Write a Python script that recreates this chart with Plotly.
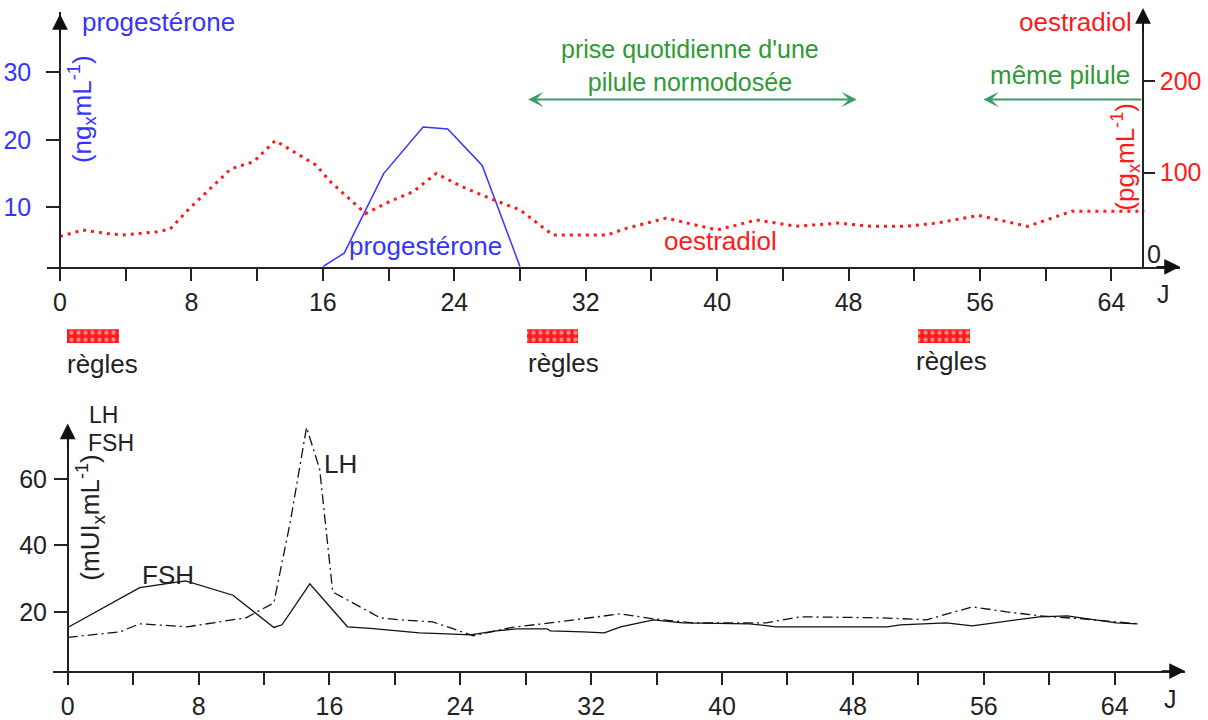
import plotly.graph_objects as go

W, H = 1208, 720

# ---------------- data ----------------
# top chart : progesterone (ng/mL, left axis) and oestradiol (pg/mL, right axis)
days_prog = [16, 17.3, 19.7, 22.1, 23.6, 25.7, 28.0]
progesterone = [1.2, 3.2, 15, 21.9, 21.6, 16.2, 1.2]

days_oes = [0, 1.4, 2.9, 3.8, 5.9, 6.7, 7.9, 10.4, 11.8, 13.1, 15.6, 16.4, 18.6,
            20.1, 21.5, 22.9, 24.4, 26.4, 28.0, 30.0, 33.3, 34.5, 36.9, 40.0,
            42.4, 44.8, 47.4, 49.4, 51.4, 53.4, 55.9, 58.9, 61.6, 66.0]
oestradiol = [30, 37, 33, 31.5, 35, 38, 61, 104, 112, 135, 108, 91, 55,
              68.5, 79, 99, 85, 70, 59, 31.5, 31.5, 39, 50, 37,
              48, 41, 44.6, 41, 41, 44.6, 53, 41, 57.6, 57.6]

# bottom chart : FSH (solid) and LH (dash-dot), mUI/mL
days_fsh = [0, 4.4, 7.2, 10.1, 12.6, 13.1, 14.8, 17.1, 18.5, 20.3, 21.5, 23.2,
            24.6, 26.2, 27.5, 29.3, 29.5, 31.5, 32.8, 33.8, 35.8, 37.6, 41.7,
            43.3, 50.1, 50.9, 53.7, 55.3, 57.0, 59.4, 61.1, 64.1, 65.4]
fsh = [15.3, 27.3, 29.3, 25, 15.3, 16.1, 28.4, 15.5, 15, 14.3, 13.7, 13.4,
       13.1, 14.3, 14.9, 14.9, 14.3, 14, 13.7, 15.5, 17.6, 16.7, 16.4,
       15.5, 15.5, 16.1, 16.7, 15.8, 17, 18.5, 18.8, 16.7, 16.4]

days_lh = [0, 3.2, 4.4, 7.3, 8.9, 10.9, 12.6, 13.6, 14.6, 15.4, 16.2, 19.1,
           20.3, 22.3, 24.8, 27.0, 29.5, 33.8, 35.8, 38.2, 42.7, 44.8, 49.8,
           52.5, 55.3, 57.4, 59.4, 62.0, 65.4]
lh = [12.3, 14, 16.4, 15.5, 16.7, 18.2, 22.7, 46.9, 75.5, 63, 26, 18.2,
      17.6, 17, 12.8, 15.2, 16.7, 19.4, 17.9, 16.7, 16.7, 18.5, 18.2,
      17.6, 21.5, 20, 18.8, 17.9, 16.4]

# menstruation periods ("règles")
regles_start = [0.4, 28.4, 52.2]
regles_end = [3.6, 31.5, 55.4]

# ticks
x_tickvals = list(range(0, 65, 4))
x_ticktext = [str(v) if v % 8 == 0 else "" for v in x_tickvals]
prog_ticks = [10, 20, 30]
oes_ticks = [100, 200]
gon_ticks = [20, 40, 60]

# ---------------- styling helpers ----------------
FONT = "Liberation Sans, Arial, sans-serif"
FS = 25      # tick labels
FT = 26      # annotation texts
BLUE = "#3535ff"
RED = "#ff1a1a"
GREEN_T = "#2f9a36"
GREEN_A = "#3a9a68"
AXC = "#222222"
TXT = "#222222"


def fx(px):
    return px / W


def fy(py):
    return 1 - py / H


fig = go.Figure()

# top chart traces
fig.add_trace(go.Scatter(x=days_oes, y=oestradiol, xaxis="x", yaxis="y2",
                         mode="lines", line=dict(color=RED, width=3, dash="3px,5px"),
                         showlegend=False, hoverinfo="skip"))
fig.add_trace(go.Scatter(x=days_prog, y=progesterone, xaxis="x", yaxis="y",
                         mode="lines", line=dict(color=BLUE, width=1.5),
                         showlegend=False, hoverinfo="skip"))

# règles boxes (patterned bars on a hidden axis)
fig.add_trace(go.Bar(x=[(a + b) / 2 for a, b in zip(regles_start, regles_end)],
                     width=[b - a for a, b in zip(regles_start, regles_end)],
                     y=[1, 1, 1], base=0, xaxis="x", yaxis="y4",
                     marker=dict(color=RED, line=dict(width=0),
                                 pattern=dict(shape=".", fgcolor="white", bgcolor=RED,
                                              size=7, solidity=0.3, fillmode="overlay")),
                     showlegend=False, hoverinfo="skip"))

# bottom chart traces
fig.add_trace(go.Scatter(x=days_lh, y=lh, xaxis="x2", yaxis="y3",
                         mode="lines", line=dict(color="#111111", width=1.3,
                                                 dash="10px,4px,2px,4px"),
                         showlegend=False, hoverinfo="skip"))
fig.add_trace(go.Scatter(x=days_fsh, y=fsh, xaxis="x2", yaxis="y3",
                         mode="lines", line=dict(color="#111111", width=1.3),
                         showlegend=False, hoverinfo="skip"))

axis_common = dict(showgrid=False, zeroline=False, showline=True, linecolor=AXC,
                   linewidth=1.5, ticks="outside", tickcolor=AXC, tickwidth=1.5,
                   fixedrange=True)

fig.update_layout(
    width=W, height=H,
    margin=dict(l=0, r=0, t=0, b=0),
    paper_bgcolor="white", plot_bgcolor="rgba(0,0,0,0)",
    font=dict(family=FONT, size=FS, color=TXT),
    bargap=0,
    xaxis=dict(domain=[fx(47), fx(1180)], range=[-0.79, 68.17], anchor="y",
               tickvals=x_tickvals, ticktext=x_ticktext, ticklen=12,
               tickfont=dict(size=FS, color=TXT), **axis_common),
    yaxis=dict(domain=[fy(269), fy(12)], range=[1.18, 38.97], anchor="free",
               position=fx(60), side="left", tickvals=prog_ticks, ticklen=13,
               tickfont=dict(size=FS, color=BLUE), ticklabelstandoff=10, **axis_common),
    yaxis2=dict(domain=[fy(269), fy(12)], range=[-3.3, 276.1], anchor="free",
                overlaying="y", position=fx(1143), side="right", tickvals=oes_ticks,
                ticklen=11, tickfont=dict(size=FS, color=RED), ticklabelstandoff=0,
                **axis_common),
    yaxis4=dict(domain=[fy(346), fy(332)], range=[0, 1], anchor="x", visible=False,
                fixedrange=True),
    xaxis2=dict(domain=[fx(53), fx(1185)], range=[-0.9, 68.3], anchor="y3",
                tickvals=x_tickvals, ticktext=x_ticktext, ticklen=12,
                tickfont=dict(size=FS, color=TXT), **axis_common),
    yaxis3=dict(domain=[fy(676.7), fy(430)], range=[2.18, 75.8], anchor="free",
                position=fx(67.7), side="left", tickvals=gon_ticks, ticklen=13,
                tickfont=dict(size=FS, color=TXT), ticklabelstandoff=2, **axis_common),
)

ann = []


def text(x, y, s, color=TXT, xanchor="center", yanchor="middle", angle=0, size=FT):
    ann.append(dict(x=fx(x), y=fy(y), xref="paper", yref="paper", text=s,
                    showarrow=False, xanchor=xanchor, yanchor=yanchor,
                    textangle=angle, font=dict(family=FONT, size=size, color=color)))


def head(x, y, ax, ay):
    ann.append(dict(x=fx(x), y=fy(y), xref="paper", yref="paper", text="",
                    showarrow=True, ax=ax, ay=ay, arrowhead=2, arrowsize=2.1,
                    arrowwidth=1.5, arrowcolor="#111111"))


# axis arrow heads
head(60, 14, 0, 25)
head(1143, 8, 0, 25)
head(1180, 269, -25, 0)
head(1185, 676.7, -25, 0)
head(67.7, 427, 0, 25)

# top chart texts
text(80, 22, "progestérone", BLUE, xanchor="left")
text(82, 110, "(ng<sub>x</sub>mL<sup>-1</sup>)", BLUE, angle=-90)
text(1134, 22, "oestradiol", RED, xanchor="right")
text(1125, 158, "(pg<sub>x</sub>mL<sup>-1</sup>)", RED, angle=-90)
text(1154, 256, "0", TXT, size=FS)
text(425, 248, "progestérone", BLUE)
text(720, 243, "oestradiol", RED)
text(690, 66, "prise quotidienne d'une<br>pilule normodosée", GREEN_T, size=25)
text(1060, 76, "même pilule", GREEN_T)
text(1163, 296, "J", TXT, size=FS)

# règles labels
text(65, 367, "règles", TXT, xanchor="left")
text(526, 366, "règles", TXT, xanchor="left")
text(914, 364, "règles", TXT, xanchor="left")

# bottom chart texts
text(87, 418, "LH", TXT, xanchor="left", size=23)
text(86, 447, "FSH", TXT, xanchor="left", size=23)
text(90, 522, "(mUI<sub>x</sub>mL<sup>-1</sup>)", TXT, angle=-90)
text(168, 580, "FSH", TXT)
text(340, 468, "LH", TXT)
text(1170, 705, "J", TXT, size=FS)

# green arrows (pill intake), positioned on the day axis / oestradiol axis
ann.append(dict(x=48.5, y=180, xref="x", yref="y2", ax=28.4, ay=180, axref="x",
                ayref="y2", text="", showarrow=True, arrowside="end+start",
                arrowhead=3, startarrowhead=3, arrowsize=1.3, startarrowsize=1.3,
                arrowwidth=2, arrowcolor=GREEN_A))
ann.append(dict(x=56.2, y=180, xref="x", yref="y2", ax=65.9, ay=180, axref="x",
                ayref="y2", text="", showarrow=True, arrowhead=3, arrowsize=1.3,
                arrowwidth=2, arrowcolor=GREEN_A))

fig.update_layout(annotations=ann)

fig.write_html("out.html", config={"displayModeBar": False},
               post_script="document.body.style.margin='0';")
